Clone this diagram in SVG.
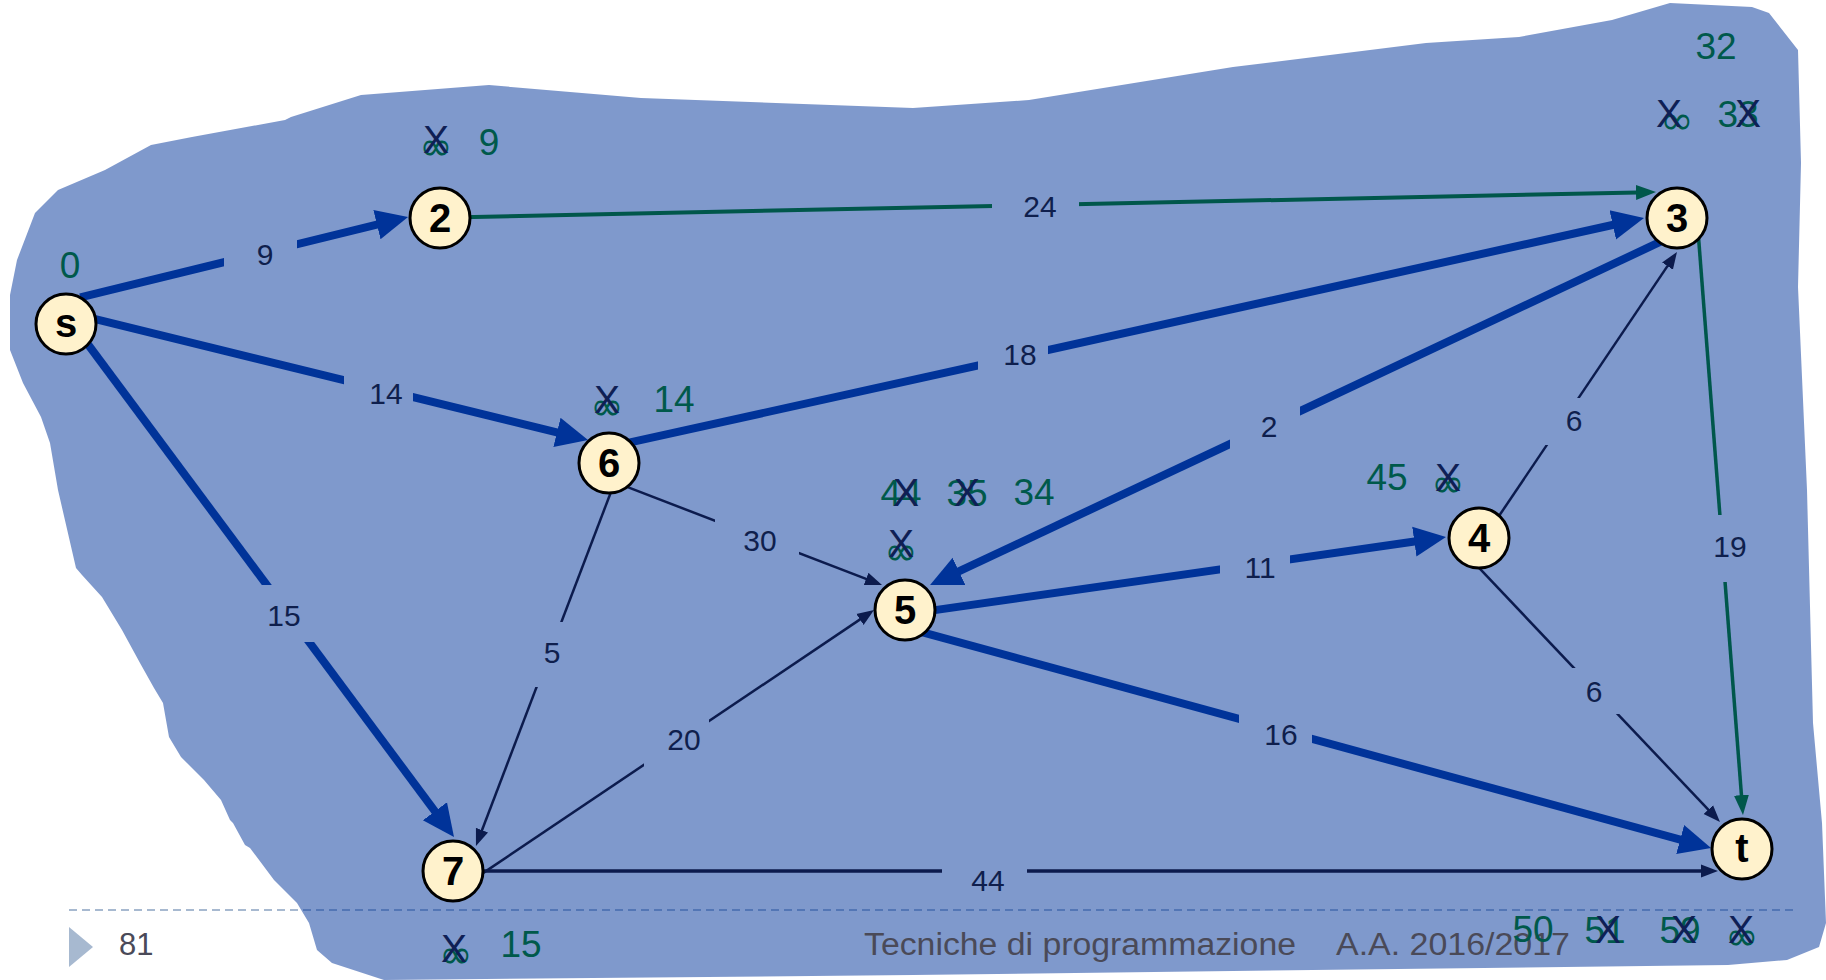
<svg xmlns="http://www.w3.org/2000/svg" width="1826" height="980" viewBox="0 0 1826 980">
<style>
.bg{fill:#ffffff}
.blob{fill:#003399;fill-opacity:0.5}
.dash{stroke:#a7b9d0;stroke-width:2;stroke-dasharray:8 5;fill:none}
.thick{stroke:#003399;stroke-width:8;fill:none;marker-end:url(#aThick)}
.thin{stroke:#0c1b4d;stroke-width:2.5;fill:none;marker-end:url(#aThin)}
.mid{stroke:#0c1b4d;stroke-width:3.5;fill:none;marker-end:url(#aThin)}
.green{stroke:#00574b;stroke-width:4;fill:none;marker-end:url(#aGreen)}
.node circle{fill:#fff2cc;stroke:#000;stroke-width:3}
.lbl{font-family:"Liberation Sans",Arial,sans-serif;font-weight:bold;font-size:40px;fill:#000;text-anchor:middle}
.w{font-family:"Liberation Sans",Arial,sans-serif;font-size:30px;fill:#0f1f4d;text-anchor:middle}
.d{font-family:"Liberation Sans",Arial,sans-serif;font-size:37px;fill:#00594b;text-anchor:middle}
.inf{font-family:"DejaVu Sans","Liberation Sans",sans-serif;font-size:40px;fill:#00594b;text-anchor:middle}
.x{font-family:"Liberation Sans",Arial,sans-serif;font-size:39px;fill:#0f1f55;text-anchor:middle}
.foot{font-family:"Liberation Sans",Arial,sans-serif;font-size:31px;fill:#4a4a58}
</style>
<defs>
<marker id="aThick" markerUnits="userSpaceOnUse" viewBox="0 -16 34 32" markerWidth="34" markerHeight="32" refX="2" refY="0" orient="auto"><path d="M0,-15 L32,0 L0,15 z" fill="#003399"/></marker>
<marker id="aThin" markerUnits="userSpaceOnUse" viewBox="0 -7 18 14" markerWidth="18" markerHeight="14" refX="2" refY="0" orient="auto"><path d="M0,-6.5 L17,0 L0,6.5 z" fill="#0c1b4d"/></marker>
<marker id="aGreen" markerUnits="userSpaceOnUse" viewBox="0 -8 21 16" markerWidth="21" markerHeight="16" refX="2" refY="0" orient="auto"><path d="M0,-7.5 L20,0 L0,7.5 z" fill="#00574b"/></marker>
<mask id="gaps" maskUnits="userSpaceOnUse" x="0" y="0" width="1826" height="980">
<rect x="0" y="0" width="1826" height="980" fill="#fff"/>
<rect x="224" y="232" width="73" height="46" fill="#000"/>
<rect x="344" y="365" width="69" height="52" fill="#000"/>
<rect x="250" y="585" width="75" height="57" fill="#000"/>
<rect x="992" y="188" width="87" height="38" fill="#000"/>
<rect x="978" y="333" width="70" height="50" fill="#000"/>
<rect x="1230" y="398" width="70" height="58" fill="#000"/>
<rect x="715" y="512" width="84" height="50" fill="#000"/>
<rect x="528" y="622" width="46" height="65" fill="#000"/>
<rect x="644" y="712" width="65" height="58" fill="#000"/>
<rect x="942" y="858" width="85" height="30" fill="#000"/>
<rect x="1220" y="545" width="70" height="45" fill="#000"/>
<rect x="1239" y="705" width="73" height="50" fill="#000"/>
<rect x="1540" y="398" width="60" height="47" fill="#000"/>
<rect x="1565" y="668" width="60" height="46" fill="#000"/>
<rect x="1705" y="515" width="50" height="67" fill="#000"/>
</mask>
</defs>
<rect class="bg" x="0" y="0" width="1826" height="980"/>
<g id="footer-line">
<line class="dash" x1="69" y1="910" x2="1798" y2="910"/>
</g>
<path id="region" class="blob" d="M10,295 L17,260 L35,213 L58,190 L105,170 L151,145 L192,137 L285,120 L291,117 L361,95 L489,85 L641,98 L913,108 L1029,100 L1233,67 L1426,43 L1519,37 L1612,20 L1670,3 L1752,7 L1769,13 L1798,50 L1801,163 L1798,287 L1807,490 L1813,723 L1822,823 L1826,923 L1819,947 L1787,960 L1728,965 L913,975 L384,980 L332,963 L317,950 L309,923 L297,903 L274,880 L250,848 L245,845 L233,823 L230,820 L221,800 L204,780 L181,757 L169,737 L163,703 L154,688 L140,663 L122,630 L102,597 L82,575 L76,568 L58,490 L50,443 L41,417 L23,383 L10,350 Z"/>
<g id="footer">
<polygon points="69,927 93,947 69,967" fill="#a7b9d0"/>
<text class="foot" x="119" y="955" font-size="34">81</text>
<text class="foot" x="864" y="955" textLength="432" lengthAdjust="spacingAndGlyphs">Tecniche di programmazione</text>
<text class="foot" x="1336" y="955" textLength="234" lengthAdjust="spacingAndGlyphs">A.A. 2016/2017</text>
</g>
<g id="connectors">
<g mask="url(#gaps)">
<path class="thick" d="M80.3,297.4 L378.9,224.1"/>
<path class="thick" d="M89.3,317.6 L558.9,432.9"/>
<path class="thick" d="M81,335 L436.1,812.9"/>
<path class="green" d="M462,217.2 L1638,192.4"/>
<path class="thick" d="M622.2,444.2 L1614.7,224.5"/>
<path class="thick" d="M1667,238.7 L957.2,572.2"/>
<path class="thin" d="M625.7,486.4 L868,579.6"/>
<path class="thin" d="M612.6,487.7 L481.3,832"/>
<path class="thin" d="M480.7,874.6 L861.6,618.4"/>
<path class="mid" d="M475,871 L1703,871"/>
<path class="thick" d="M926.1,611.4 L1416.3,541.3"/>
<path class="thick" d="M915.4,630.4 L1682.1,840.1"/>
<path class="thin" d="M1495.4,521.3 L1668.6,264.4"/>
<path class="thin" d="M1474.1,562.7 L1709.7,811.1"/>
<path class="green" style="stroke-width:3.5" d="M1698.2,233 L1741.6,797.1"/>
</g>
<text class="w" x="265" y="265">9</text>
<text class="w" x="386" y="404">14</text>
<text class="w" x="284" y="626">15</text>
<text class="w" x="1040" y="217">24</text>
<text class="w" x="1020" y="365">18</text>
<text class="w" x="1269" y="437">2</text>
<text class="w" x="760" y="551">30</text>
<text class="w" x="552" y="663">5</text>
<text class="w" x="684" y="750">20</text>
<text class="w" x="988" y="891">44</text>
<text class="w" x="1260" y="578">11</text>
<text class="w" x="1281" y="745">16</text>
<text class="w" x="1574" y="431">6</text>
<text class="w" x="1594" y="702">6</text>
<text class="w" x="1730" y="557">19</text>
</g>
<g id="node-s" class="node">
<circle cx="66" cy="324" r="30"/>
<text class="lbl" x="66" y="337">s</text>
<text class="d" x="70" y="278">0</text>
</g>
<g id="node-2" class="node">
<circle cx="440" cy="218" r="30"/>
<text class="lbl" x="440" y="232">2</text>
<text class="inf" x="436" y="160">∞</text>
<text class="x" x="436" y="153">X</text>
<text class="d" x="489" y="155">9</text>
</g>
<g id="node-3" class="node">
<circle cx="1677" cy="218" r="30"/>
<text class="lbl" x="1677" y="232">3</text>
<text class="d" x="1716" y="59">32</text>
<text class="inf" x="1677" y="134">∞</text>
<text class="x" x="1669" y="127">X</text>
<text class="d" x="1738" y="127">33</text>
<text class="x" x="1748" y="127">X</text>
</g>
<g id="node-6" class="node">
<circle cx="609" cy="463" r="30"/>
<text class="lbl" x="609" y="477">6</text>
<text class="inf" x="607" y="420">∞</text>
<text class="x" x="607" y="413">X</text>
<text class="d" x="674" y="412">14</text>
</g>
<g id="node-5" class="node">
<circle cx="905" cy="610" r="30"/>
<text class="lbl" x="905" y="624">5</text>
<text class="d" x="901" y="506">44</text>
<text class="x" x="906" y="506">X</text>
<text class="d" x="967" y="506">35</text>
<text class="x" x="967" y="506">X</text>
<text class="d" x="1034" y="505">34</text>
<text class="inf" x="901" y="565">∞</text>
<text class="x" x="901" y="557">X</text>
</g>
<g id="node-4" class="node">
<circle cx="1479" cy="538" r="30"/>
<text class="lbl" x="1479" y="552">4</text>
<text class="d" x="1387" y="490">45</text>
<text class="inf" x="1448" y="497">∞</text>
<text class="x" x="1448" y="491">X</text>
</g>
<g id="node-7" class="node">
<circle cx="453" cy="871" r="30"/>
<text class="lbl" x="453" y="885">7</text>
<text class="inf" x="456" y="968">∞</text>
<text class="x" x="454" y="962">X</text>
<text class="d" x="521" y="957">15</text>
</g>
<g id="node-t" class="node">
<circle cx="1742" cy="849" r="30"/>
<text class="lbl" x="1742" y="862">t</text>
<text class="d" x="1533" y="942">50</text>
<text class="d" x="1605" y="943">51</text>
<text class="x" x="1608" y="943">X</text>
<text class="d" x="1680" y="943">59</text>
<text class="x" x="1684" y="943">X</text>
<text class="inf" x="1742" y="950">∞</text>
<text class="x" x="1741" y="943">X</text>
</g>
</svg>
